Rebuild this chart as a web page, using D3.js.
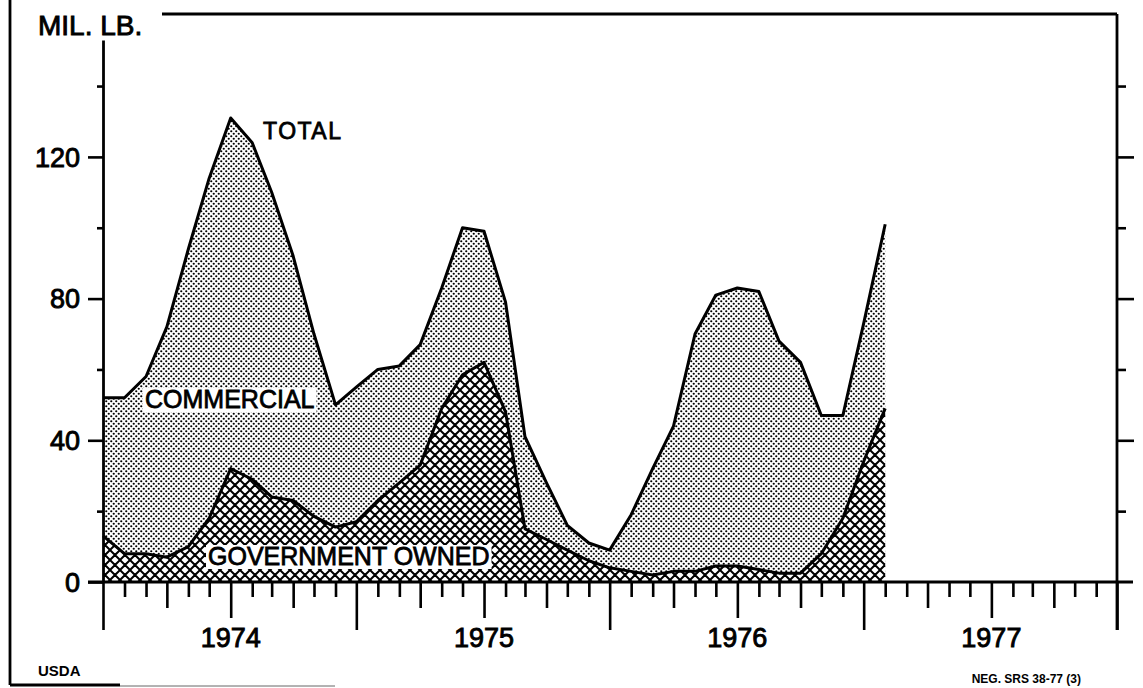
<!DOCTYPE html>
<html>
<head>
<meta charset="utf-8">
<script src="https://cdnjs.cloudflare.com/ajax/libs/d3/7.8.5/d3.min.js"></script>
<style>
  body { margin: 0; background: #fff; }
  text { font-family: "Liberation Sans", Arial, sans-serif; fill: #000; }
</style>
</head>
<body>
<div id="chart"></div>
<script>
// Monthly stocks, July 1973 - August 1976 (mil. lb.)
const firstMonth = new Date(1973, 6, 1);
const totalStocks = [
    52, 52, 58, 72, 94, 114,                          // 1973 Jul-Dec
    131, 124, 110, 92, 70, 50, 55, 60, 61, 67, 83, 100, // 1974
    99, 79, 41, 28, 16, 11, 9, 19, 32, 44, 70, 81,    // 1975
    83, 82, 68, 62, 47, 47, 73, 101                   // 1976 Jan-Aug
];
const governmentOwned = [
    13, 8, 8, 7, 10, 18,
    32, 29, 24, 23, 18.5, 15.5, 17, 23, 28, 33, 49, 58.5,
    62, 48, 15, 12, 9, 6, 4, 3, 2, 3, 3, 4.5,
    4.5, 3.5, 2.5, 2.5, 8, 18, 34, 49
];
const yearLabels = [1974, 1975, 1976, 1977];
const yTicks = [0, 20, 40, 60, 80, 100, 120, 140];
const yLabels = [0, 40, 80, 120];

const width = 1143, height = 688;

const data = totalStocks.map((t, i) => ({
    date: d3.timeMonth.offset(firstMonth, i),
    total: t,
    gov: governmentOwned[i]
}));

const x = d3.scaleTime()
    .domain([new Date(1973, 6, 1), new Date(1977, 6, 1)])
    .range([103, 1117]);
const y = d3.scaleLinear().domain([0, 153]).range([582, 40]);

const svg = d3.select("#chart").append("svg")
    .attr("width", width)
    .attr("height", height)
    .style("background", "#fff");

// Fill patterns: dot stipple and diamond crosshatch
const defs = svg.append("defs");
const stipple = defs.append("pattern")
    .attr("id", "stipple")
    .attr("patternUnits", "userSpaceOnUse")
    .attr("width", 5).attr("height", 5);
stipple.append("rect").attr("width", 5).attr("height", 5).attr("fill", "#fff");
stipple.selectAll("circle")
    .data([[1.25, 1.25], [3.75, 3.75]])
    .join("circle")
    .attr("cx", d => d[0]).attr("cy", d => d[1])
    .attr("r", 1.1).attr("fill", "#000");

const hatch = defs.append("pattern")
    .attr("id", "hatch")
    .attr("patternUnits", "userSpaceOnUse")
    .attr("width", 10).attr("height", 10);
hatch.append("rect").attr("width", 10).attr("height", 10).attr("fill", "#fff");
hatch.append("path")
    .attr("d", "M-5,-5L15,15M-5,5L5,15M5,-5L15,5M15,-5L-5,15M-5,5L5,-5M5,15L15,5")
    .attr("stroke", "#000")
    .attr("stroke-width", 2);

// Areas
const totalArea = d3.area().x(d => x(d.date)).y0(y(0)).y1(d => y(d.total));
const govArea = d3.area().x(d => x(d.date)).y0(y(0)).y1(d => y(d.gov));

svg.append("path").datum(data).attr("d", totalArea).attr("fill", "url(#stipple)");
svg.append("path").datum(data).attr("d", govArea).attr("fill", "url(#hatch)");

const lineStyle = sel => sel
    .attr("fill", "none")
    .attr("stroke", "#000")
    .attr("stroke-width", 3)
    .attr("stroke-linejoin", "round");

svg.append("path").datum(data)
    .attr("d", d3.line().x(d => x(d.date)).y(d => y(d.total)))
    .call(lineStyle);
svg.append("path").datum(data)
    .attr("d", d3.line().x(d => x(d.date)).y(d => y(d.gov)))
    .call(lineStyle);

// Bottom axis: monthly ticks, longer for quarters, January and July
const allMonths = d3.timeMonth.range(x.domain()[0], d3.timeMonth.offset(x.domain()[1], 1));
const tickLen = d => {
    const m = d.getMonth();
    if (m === 6) return 48;
    if (m === 0) return 36;
    if (m % 3 === 0) return 26;
    return 15;
};

svg.append("g")
    .attr("transform", `translate(0,${y(0)})`)
    .call(d3.axisBottom(x).tickValues(allMonths).tickFormat("").tickSizeOuter(0))
    .call(g => g.select(".domain").remove())
    .call(g => g.selectAll(".tick line")
        .attr("y2", tickLen)
        .attr("stroke", "#000")
        .attr("stroke-width", 2.6));

svg.append("line")
    .attr("x1", x.range()[0] - 15).attr("x2", x.range()[1] + 16)
    .attr("y1", y(0)).attr("y2", y(0))
    .attr("stroke", "#000").attr("stroke-width", 2.8);

svg.append("g").selectAll("text")
    .data(yearLabels)
    .join("text")
    .attr("x", d => x(new Date(d, 0, 1)))
    .attr("y", 647)
    .attr("text-anchor", "middle")
    .attr("font-size", 27)
    .attr("stroke", "#000").attr("stroke-width", 0.9)
    .text(d => d);

// Left axis
svg.append("g")
    .attr("transform", `translate(${x.range()[0]},0)`)
    .call(d3.axisLeft(y).tickValues(yTicks).tickFormat("").tickSizeOuter(0))
    .call(g => g.select(".domain").attr("stroke-width", 2.8))
    .call(g => g.selectAll(".tick line")
        .attr("x2", d => yLabels.includes(d) ? -15 : -6)
        .attr("stroke-width", 2.6));

svg.append("g").selectAll("text")
    .data(yLabels)
    .join("text")
    .attr("x", 80)
    .attr("y", d => y(d))
    .attr("dy", "0.36em")
    .attr("text-anchor", "end")
    .attr("font-size", 27)
    .attr("stroke", "#000").attr("stroke-width", 0.9)
    .text(d => d);

// Right axis
svg.append("g")
    .attr("transform", `translate(${x.range()[1]},0)`)
    .call(d3.axisRight(y).tickValues(yTicks.filter(d => d > 0)).tickFormat("").tickSizeOuter(0))
    .call(g => g.select(".domain").remove())
    .call(g => g.selectAll(".tick line")
        .attr("x2", d => yLabels.includes(d) ? 17 : 9)
        .attr("stroke-width", 2.6));

// Frame
const frame = svg.append("g").attr("stroke", "#000").attr("stroke-width", 2.8);
frame.append("line")
    .attr("x1", x.range()[1]).attr("x2", x.range()[1])
    .attr("y1", 14).attr("y2", y(0) + 48);
frame.append("line").attr("x1", 162).attr("x2", x.range()[1]).attr("y1", 14).attr("y2", 14);
frame.append("line").attr("x1", 10).attr("x2", 10).attr("y1", 0).attr("y2", 685);
frame.append("line").attr("x1", 10).attr("x2", 120).attr("y1", 685).attr("y2", 685);
frame.append("line").attr("x1", 120).attr("x2", 335).attr("y1", 686).attr("y2", 686)
    .attr("stroke-width", 1).attr("stroke", "#666");

// Titles and series labels
svg.append("text")
    .attr("x", 38).attr("y", 35)
    .attr("font-size", 28)
    .attr("stroke", "#000").attr("stroke-width", 0.9)
    .text("MIL. LB.");

svg.append("text")
    .attr("x", 263).attr("y", 139)
    .attr("font-size", 23)
    .attr("letter-spacing", 1.5)
    .attr("stroke", "#000").attr("stroke-width", 0.8)
    .text("TOTAL");

function boxedLabel(label, lx, ly) {
    const g = svg.append("g");
    const t = g.append("text")
        .attr("x", lx).attr("y", ly)
        .attr("font-size", 25)
        .attr("stroke", "#000").attr("stroke-width", 0.8)
        .text(label);
    const b = t.node().getBBox();
    g.insert("rect", "text")
        .attr("x", b.x - 2).attr("y", b.y + 3)
        .attr("width", b.width + 4).attr("height", b.height - 4)
        .attr("fill", "#fff");
}
boxedLabel("COMMERCIAL", 145, 408);
boxedLabel("GOVERNMENT OWNED", 208, 565);

svg.append("text")
    .attr("x", 38).attr("y", 676)
    .attr("font-size", 15).attr("font-weight", "bold")
    .text("USDA");

svg.append("text")
    .attr("x", 1081).attr("y", 683)
    .attr("text-anchor", "end")
    .attr("font-size", 12).attr("font-weight", "bold")
    .text("NEG. SRS 38-77 (3)");
</script>
</body>
</html>
